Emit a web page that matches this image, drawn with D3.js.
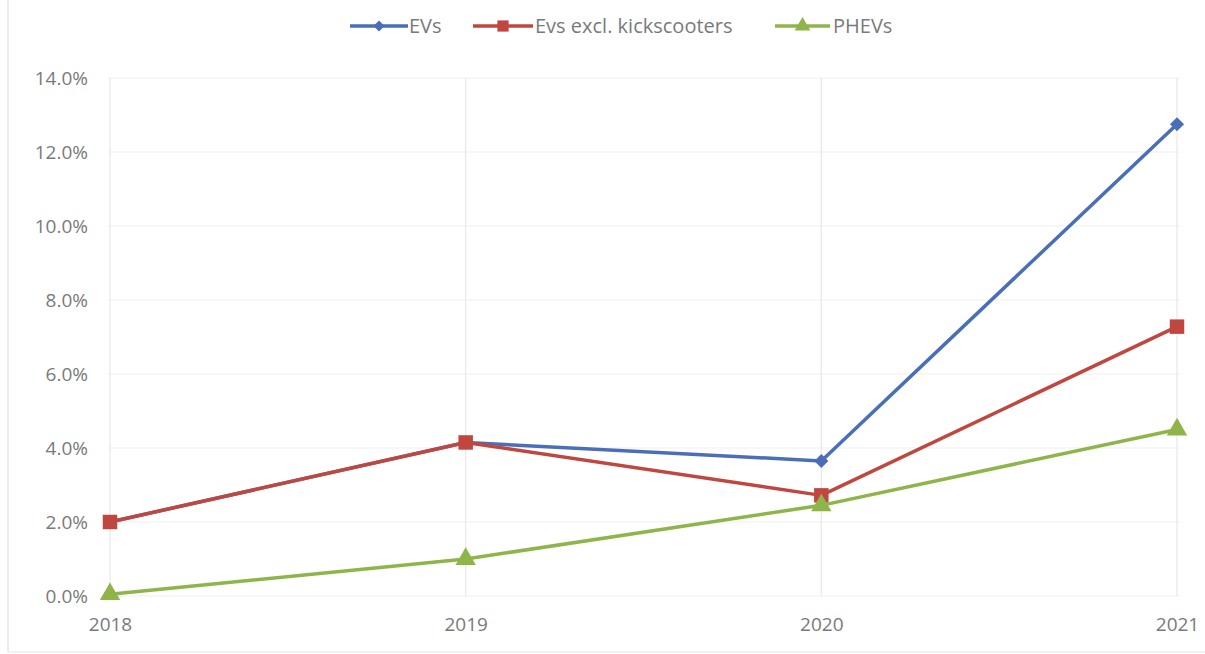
<!DOCTYPE html>
<html lang="en">
<head>
<meta charset="utf-8">
<title>EV share</title>
<script src="https://d3js.org/d3.v7.min.js"></script>
<style>
  body { margin: 0; background: #fff; }
  svg { width: 1205px; height: 654px; display: block; }
  .tick text { font-family: "Open Sans", sans-serif; font-size: 19px; fill: #7a7a7a; }
  .legend text { font-family: "Open Sans", sans-serif; font-size: 20px; fill: #7a7a7a; }
</style>
</head>
<body>
<svg></svg>
<script>
// data
const years = ["2018", "2019", "2020", "2021"];
const seriesNames = ["EVs", "Evs excl. kickscooters", "PHEVs"];
const evs = [2.0, 4.15, 3.65, 12.75];
const evsExcl = [2.0, 4.15, 2.72, 7.28];
const phevs = [0.05, 1.0, 2.45, 4.5];
const yTicks = [0, 2, 4, 6, 8, 10, 12, 14];

const colors = ["#4a6fb8", "#c0473f", "#8fb54a"];
const markers = [d3.symbolSquare, d3.symbolSquare, d3.symbolTriangle];
const markerRot = [45, 0, 0]; // diamond = rotated square
const markerSizes = [100, 210, 180];

const series = [evs, evsExcl, phevs].map((v, i) => ({
  name: seriesNames[i], values: v, color: colors[i], marker: markers[i], rot: markerRot[i], size: markerSizes[i]
}));

const svg = d3.select("svg");

const x = d3.scalePoint().domain(years).range([110, 1177]);
const y = d3.scaleLinear().domain([0, 14]).range([596, 78]);

// outer frame lines
svg.append("line").attr("x1", 8).attr("x2", 8).attr("y1", 0).attr("y2", 652)
  .attr("stroke", "#e6e6e6").attr("stroke-width", 1.5);
svg.append("line").attr("x1", 8).attr("x2", 1205).attr("y1", 652).attr("y2", 652)
  .attr("stroke", "#eeeeee").attr("stroke-width", 1.5);

// gridlines
svg.append("g").selectAll("line").data(yTicks).join("line")
  .attr("x1", 108).attr("x2", 1180)
  .attr("y1", d => y(d)).attr("y2", d => y(d))
  .attr("stroke", "#efefef").attr("stroke-width", 1.2);
svg.append("g").selectAll("line").data(years).join("line")
  .attr("x1", d => x(d)).attr("x2", d => x(d))
  .attr("y1", y(14)).attr("y2", y(0))
  .attr("stroke", "#e8e8e8").attr("stroke-width", 1.2);

// axes
const yAxis = svg.append("g").attr("transform", "translate(88,0)")
  .call(d3.axisLeft(y).tickValues(yTicks).tickSize(0).tickPadding(0).tickFormat(d => d.toFixed(1) + "%"));
yAxis.select(".domain").remove();
yAxis.selectAll("text").attr("dy", "0.35em");

const xAxis = svg.append("g").attr("transform", "translate(0,617)")
  .call(d3.axisBottom(x).tickSize(0).tickPadding(0));
xAxis.select(".domain").remove();

// lines
const line = d3.line().x((d, i) => x(years[i])).y(d => y(d));
const g = svg.selectAll(".series").data(series).join("g").attr("class", "series");
g.append("path")
  .attr("d", d => line(d.values))
  .attr("fill", "none")
  .attr("stroke", d => d.color)
  .attr("stroke-width", 3.5)
  .attr("stroke-linejoin", "round");
g.each(function (s) {
  d3.select(this).selectAll("path.mk").data(s.values).join("path")
    .attr("class", "mk")
    .attr("transform", (d, i) => `translate(${x(years[i])},${y(d)}) rotate(${s.rot})`)
    .attr("d", d3.symbol().type(s.marker).size(s.size))
    .attr("fill", s.color);
});

// legend
const legendPos = [{ x1: 350, x2: 408, tx: 409 }, { x1: 473, x2: 533, tx: 535 }, { x1: 775, x2: 830, tx: 833 }];
const lg = svg.append("g").attr("class", "legend").selectAll("g").data(series).join("g");
lg.append("line")
  .attr("x1", (d, i) => legendPos[i].x1).attr("x2", (d, i) => legendPos[i].x2)
  .attr("y1", 26).attr("y2", 26)
  .attr("stroke", d => d.color).attr("stroke-width", 3.5);
lg.append("path")
  .attr("transform", (d, i) => `translate(${(legendPos[i].x1 + legendPos[i].x2) / 2},26) rotate(${d.rot})`)
  .attr("d", d => d3.symbol().type(d.marker).size(d.size * 0.6)())
  .attr("fill", d => d.color);
lg.append("text")
  .attr("x", (d, i) => legendPos[i].tx).attr("y", 26).attr("dy", "0.35em")
  .text(d => d.name);
</script>
</body>
</html>
